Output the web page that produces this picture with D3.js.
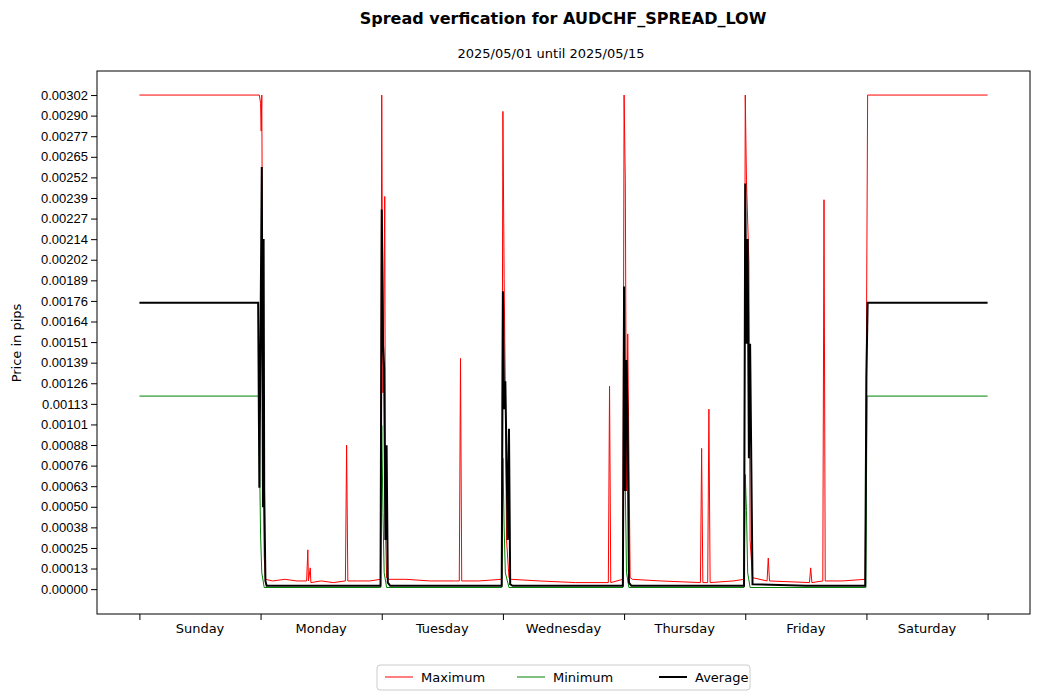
<!DOCTYPE html>
<html><head><meta charset="utf-8">
<script src="https://cdn.jsdelivr.net/npm/d3@7"></script>
<style>body{margin:0;background:#fff;font-family:"DejaVu Sans",sans-serif;}</style>
</head><body><svg id="c" width="1039" height="700"></svg>
<script>
// Spread verification chart: max / min / average spread over a week
const days = ['Sunday', 'Monday', 'Tuesday', 'Wednesday', 'Thursday', 'Friday', 'Saturday'];
const yTickLabels = ['0.00000', '0.00013', '0.00025', '0.00038', '0.00050', '0.00063', '0.00076', '0.00088', '0.00101',
  '0.00113', '0.00126', '0.00139', '0.00151', '0.00164', '0.00176', '0.00189', '0.00202', '0.00214', '0.00227',
  '0.00239', '0.00252', '0.00265', '0.00277', '0.00290', '0.00302'];
const yTicks = yTickLabels.map((_, i) => i * 0.00302 / 24);

// time in days (0 = Sunday 00:00), values in price units
const maxT = [0, 0.99, 1.0, 1.005, 1.01, 1.02, 1.03, 1.04, 1.1, 1.2, 1.3, 1.38, 1.39, 1.395, 1.41, 1.415, 1.5, 1.6, 1.7, 1.71, 1.72, 1.8, 1.9, 1.99,
  2.0, 2.01, 2.025, 2.03, 2.04, 2.06, 2.2, 2.4, 2.6, 2.64, 2.65, 2.66, 2.8, 2.99,
  3.0, 3.01, 3.02, 3.03, 3.05, 3.07, 3.3, 3.6, 3.87, 3.88, 3.89, 3.99,
  4.0, 4.01, 4.02, 4.03, 4.05, 4.07, 4.3, 4.63, 4.64, 4.65, 4.69, 4.7, 4.71, 4.9, 4.99,
  5.0, 5.01, 5.03, 5.04, 5.06, 5.18, 5.19, 5.2, 5.53, 5.54, 5.55, 5.64, 5.65, 5.66, 5.8, 5.99, 6.0, 6.01, 7.0];
const maxV = [0.00302, 0.00302, 0.00297, 0.0028, 0.00302, 0.0012, 0.0002, 0.00006, 0.00005, 0.00006, 0.00005, 0.00005, 0.00024, 0.00005, 0.00013, 0.00004, 0.00005, 0.00004, 0.00005, 0.00088, 0.00005, 0.00005, 0.00005, 0.00006,
  0.00302, 0.0012, 0.0024, 0.0004, 0.00007, 0.00006, 0.00006, 0.00005, 0.00005, 0.00005, 0.00141, 0.00005, 0.00005, 0.00006,
  0.00292, 0.0019, 0.0012, 0.0003, 0.00007, 0.00006, 0.00005, 0.00004, 0.00004, 0.00124, 0.00004, 0.00006,
  0.00302, 0.0025, 0.0006, 0.00156, 0.00007, 0.00006, 0.00005, 0.00004, 0.00086, 0.00004, 0.00004, 0.0011, 0.00004, 0.00005, 0.00006,
  0.00302, 0.0025, 0.0020, 0.0003, 0.00007, 0.00005, 0.00019, 0.00005, 0.00004, 0.00013, 0.00004, 0.00005, 0.00238, 0.00005, 0.00005, 0.00006, 0.0015, 0.00302, 0.00302];
const minT = [0, 0.99, 0.995, 1.0, 1.01, 1.03, 1.99, 2.0, 2.01, 2.02, 2.04, 2.99, 3.0, 3.01, 3.02, 3.05, 3.99, 4.0, 4.01, 4.02, 4.04, 4.99, 5.0, 5.01, 5.02, 5.04, 5.995, 6.005, 7.0];
const minV = [0.00118, 0.00118, 0.0006, 0.00033, 0.0001, 0.00001, 0.00001, 0.001, 0.00047, 0.0001, 0.00001, 0.00001, 0.0008, 0.00038, 0.0001, 0.00001, 0.00001, 0.0011, 0.00063, 0.0001, 0.00001, 0.00001, 0.0007, 0.00048, 0.0001, 0.00001, 0.00001, 0.00118, 0.00118];
const avgT = [0, 0.98, 0.99, 1.01, 1.02, 1.025, 1.03, 1.04, 1.05, 1.07, 1.5, 1.99, 2.0, 2.01, 2.02, 2.03, 2.04, 2.05, 2.07, 2.6, 2.99, 3.0, 3.01, 3.02, 3.04, 3.05, 3.06, 3.08, 3.5, 3.99, 4.0, 4.01, 4.02, 4.03, 4.04, 4.06, 4.5, 4.99, 5.0, 5.01, 5.02, 5.03, 5.04, 5.06, 5.5, 5.99, 6.0, 6.01, 7.0];
const avgV = [0.00175, 0.00175, 0.00062, 0.00258, 0.0005, 0.00214, 0.0006, 0.00005, 0.00002, 0.00002, 0.00002, 0.00002, 0.00232, 0.0015, 0.00135, 0.0003, 0.00088, 0.00004, 0.00002, 0.00002, 0.00002, 0.00182, 0.0011, 0.00127, 0.0003, 0.00098, 0.00003, 0.00002, 0.00002, 0.00002, 0.00185, 0.0006, 0.0014, 0.001, 0.00004, 0.00002, 0.00002, 0.00002, 0.00248, 0.0015, 0.00214, 0.0008, 0.0015, 0.00003, 0.00002, 0.00002, 0.0013, 0.00175, 0.00175];

const svg = d3.select('#c');
const L = 97, R = 1030, T = 71, B = 614;
const x = d3.scaleLinear().domain([-0.35, 7.35]).range([L, R]);
const y = d3.scaleLinear().domain([-0.000152, 0.003167]).range([B, T]);

svg.append('text').attr('x', 563).attr('y', 24).attr('text-anchor', 'middle')
  .attr('font-weight', 'bold').style('font-size', '16px').text('Spread verfication for AUDCHF_SPREAD_LOW');
svg.append('text').attr('x', 551).attr('y', 58).attr('text-anchor', 'middle')
  .style('font-size', '13px').text('2025/05/01 until 2025/05/15');
svg.append('text').attr('transform', 'translate(21,343) rotate(-90)').attr('text-anchor', 'middle')
  .style('font-size', '13px').text('Price in pips');

const yAxis = svg.append('g').attr('transform', `translate(${L},0)`)
  .call(d3.axisLeft(y).tickValues(yTicks).tickFormat((d, i) => yTickLabels[i]).tickSizeOuter(0));
yAxis.selectAll('text').style('font-size', '13px').attr('fill', '#000');
yAxis.select('.domain').remove();

const xAxis = svg.append('g').attr('transform', `translate(0,${B})`)
  .call(d3.axisBottom(x).tickValues(d3.range(0, 8)).tickFormat('').tickSizeOuter(0));
xAxis.select('.domain').remove();
svg.append('g').selectAll('text').data(days).join('text')
  .attr('x', (d, i) => x(i + 0.5)).attr('y', B + 19).attr('text-anchor', 'middle')
  .style('font-size', '13px').text(d => d);

svg.append('rect').attr('x', L).attr('y', T).attr('width', R - L).attr('height', B - T)
  .attr('fill', 'none').attr('stroke', '#000');

const line = d3.line().x(d => x(d[0])).y(d => y(d[1]));
const series = [
  { name: 'Maximum', t: maxT, v: maxV, color: 'red', w: 1 },
  { name: 'Minimum', t: minT, v: minV, color: 'green', w: 1 },
  { name: 'Average', t: avgT, v: avgV, color: 'black', w: 2 },
];
series.forEach(s => {
  svg.append('path').datum(s.t.map((t, i) => [t, s.v[i]]))
    .attr('d', line).attr('fill', 'none').attr('stroke', s.color).attr('stroke-width', s.w);
});

// legend
const lg = svg.append('g');
lg.append('rect').attr('x', 377).attr('y', 665).attr('width', 373).attr('height', 25).attr('rx', 3)
  .attr('fill', '#fff').attr('stroke', '#ccc');
const lx = [385, 517, 659];
series.forEach((s, i) => {
  lg.append('line').attr('x1', lx[i]).attr('x2', lx[i] + 28).attr('y1', 677).attr('y2', 677)
    .attr('stroke', s.color).attr('stroke-width', s.w);
  lg.append('text').attr('x', lx[i] + 36).attr('y', 682).style('font-size', '13px').text(s.name);
});
</script></body></html>
